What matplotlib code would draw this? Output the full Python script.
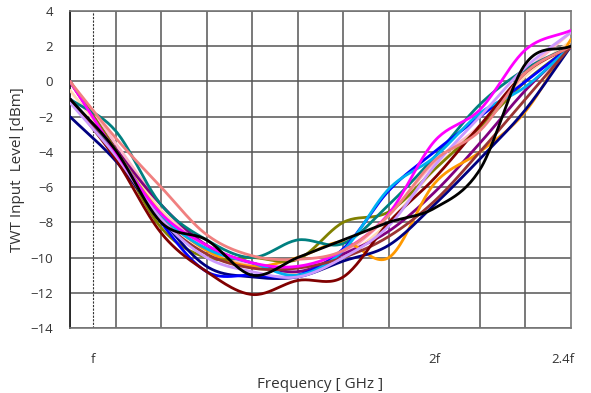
import numpy as np
import matplotlib
matplotlib.use("Agg")
import matplotlib.pyplot as plt
import matplotlib.transforms as mtransforms
from matplotlib.ticker import MultipleLocator

plt.rcParams['font.family'] = ['Open Sans', 'DejaVu Sans']

# Frequency sample points (grid steps; 'f' sits half a step in, '2f' at step 8, '2.4f' at step 11)
steps = list(range(12))
tick_pos = [0.5, 8, 11]
tick_labels = ["f", "2f", "2.4f"]

# TWT input level [dBm] for each tube, one value per frequency step
peach    = [-0.5, -3.8, -7.3, -9.4, -10.3, -10.9, -10.0, -8.0, -5.0, -2.5, 0.3, 2.3]
pink     = [0.0, -3.5, -7.0, -9.5, -10.4, -10.5, -9.8, -7.6, -4.6, -2.5, 0.5, 2.8]
purple   = [0.0, -3.8, -7.0, -9.3, -10.3, -10.8, -9.8, -8.5, -6.3, -3.5, -0.5, 2.0]
orange   = [0.0, -3.9, -7.5, -9.6, -10.5, -10.0, -9.1, -10.0, -5.8, -4.0, -1.7, 2.4]
olive    = [0.0, -3.9, -8.3, -10.0, -10.0, -10.1, -8.0, -7.4, -5.0, -2.6, 0.0, 2.0]
teal     = [-1.0, -2.8, -7.0, -9.0, -10.0, -9.0, -9.2, -7.0, -4.3, -1.3, 0.7, 2.0]
navy     = [-2.0, -4.5, -7.8, -10.5, -11.1, -11.1, -10.2, -9.3, -7.0, -4.4, -1.6, 2.0]
blue     = [-1.0, -4.0, -8.0, -10.8, -11.0, -11.0, -9.5, -6.2, -4.0, -2.0, 0.0, 2.0]
skyblue  = [-1.0, -4.0, -7.6, -9.5, -10.3, -11.0, -9.6, -6.1, -4.3, -1.8, -0.3, 2.0]
brown    = [-1.0, -4.2, -7.8, -9.8, -10.6, -10.6, -10.0, -8.8, -6.8, -4.0, -1.0, 2.0]
maroon   = [-1.0, -4.4, -8.6, -10.8, -12.1, -11.3, -11.1, -8.0, -5.5, -2.5, 0.5, 2.0]
lavender = [-1.2, -4.2, -7.8, -10.0, -10.8, -11.1, -10.0, -8.2, -4.8, -2.0, 0.8, 2.8]
magenta  = [0.0, -4.0, -7.5, -9.3, -10.3, -10.5, -9.6, -7.5, -3.4, -1.6, 1.8, 2.9]
salmon   = [0.0, -3.2, -6.0, -8.7, -9.9, -10.1, -9.6, -7.6, -4.5, -2.8, 0.5, 2.0]
black    = [-1.0, -3.9, -8.0, -9.0, -11.0, -10.0, -9.0, -8.0, -7.2, -5.0, 1.0, 2.0]

series = [
    (peach, "#FFD9B3"), (pink, "#FFB6C8"), (purple, "#800080"), (orange, "#FF9900"),
    (olive, "#808000"), (teal, "#008080"), (navy, "#000080"), (blue, "#0000FF"),
    (skyblue, "#00B0F0"), (brown, "#993333"), (maroon, "#800000"), (lavender, "#CC99FF"),
    (magenta, "#FF00FF"), (salmon, "#F08080"), (black, "#000000"),
]


def smooth(x, y, n=24):
    """Catmull-Rom spline through the points, as a smoothed line chart draws them."""
    x = np.asarray(x, float)
    y = np.asarray(y, float)
    px = np.concatenate([[2 * x[0] - x[1]], x, [2 * x[-1] - x[-2]]])
    py = np.concatenate([[2 * y[0] - y[1]], y, [2 * y[-1] - y[-2]]])
    xs, ys = [], []
    t = np.linspace(0, 1, n, endpoint=False)
    for i in range(1, len(px) - 2):
        for arr, out in ((px, xs), (py, ys)):
            p0, p1, p2, p3 = arr[i - 1], arr[i], arr[i + 1], arr[i + 2]
            out.append(0.5 * ((2 * p1) + (-p0 + p2) * t
                              + (2 * p0 - 5 * p1 + 4 * p2 - p3) * t ** 2
                              + (-p0 + 3 * p1 - 3 * p2 + p3) * t ** 3))
    xs = np.concatenate(xs + [[x[-1]]])
    ys = np.concatenate(ys + [[y[-1]]])
    return xs, ys


fig = plt.figure(figsize=(5.91, 3.93), dpi=100)
ax = fig.add_axes([0.1184, 0.1654, 0.9662 - 0.1184, 0.972 - 0.1654])

for vals, col in series:
    sx, sy = smooth(steps, vals)
    ax.plot(sx, sy, color=col, lw=2.0, solid_capstyle="round", zorder=3)

ax.set_xlim(0, 11)
ax.set_ylim(-14, 4)
ax.yaxis.set_major_locator(MultipleLocator(2))
ax.xaxis.set_minor_locator(MultipleLocator(1))
ax.set_xticks(tick_pos)
ax.set_xticklabels(tick_labels)

ax.grid(which="minor", axis="x", color="#555555", lw=1.1)
ax.grid(which="major", axis="y", color="#555555", lw=1.1)
ax.axvline(tick_pos[0], color="#333333", lw=0.8, ls=(0, (2, 1.2)), zorder=2)

ax.tick_params(axis="both", which="both", length=0, colors="#333333", labelsize=9.5)
ax.tick_params(axis="x", pad=18)
ax.tick_params(axis="y", pad=12)

# keep the right-most label inside the frame
last = ax.get_xticklabels()[-1]
last.set_transform(last.get_transform()
                   + mtransforms.ScaledTranslation(-8 / 100, 0, fig.dpi_scale_trans))

for side in ("top", "right", "bottom"):
    ax.spines[side].set_color("#777777")
    ax.spines[side].set_linewidth(1.2)
ax.spines["left"].set_color("#222222")
ax.spines["left"].set_linewidth(1.3)

ax.set_xlabel("Frequency [ GHz ]", fontsize=11, color="#333333", labelpad=8)
ax.set_ylabel("TWT Input  Level [dBm]", fontsize=11, color="#333333", labelpad=4)

fig.savefig("out.png", dpi=100)
